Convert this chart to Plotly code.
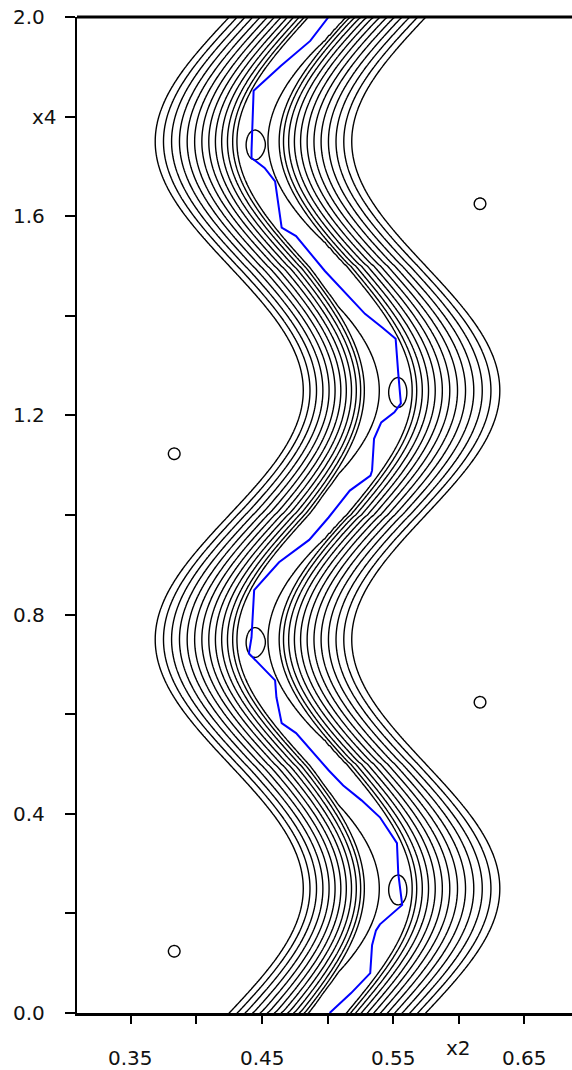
import numpy as np
import plotly.graph_objects as go

# ---- axis ticks -------------------------------------------------------------
x2_ticks = [0.35, 0.40, 0.45, 0.50, 0.55, 0.60, 0.65]
x2_labels = ["0.35", "", "0.45", "", "0.55", "x2", "0.65"]
x4_ticks = [0.0, 0.2, 0.4, 0.6, 0.8, 1.0, 1.2, 1.4, 1.6, 1.8, 2.0]
x4_labels = ["0.0", "", "0.4", "", "0.8", "", "1.2", "", "1.6", "x4", "2.0"]

# ---- response surface parameters ---------------------------------------------
band_mid = 0.5          # mean x2 of the valley
band_amp = 0.0565       # swing of the valley in x2
band_period = 1.0       # period in x4
band_half = 0.075       # half width of the contoured band

floor_mid = 0.0137                 # floor half width where the valley crosses the middle
floor_outer = [0.0118, 0.0072]     # at the bends [towards low x2, towards high x2]
floor_inner = [0.0180, 0.0270]
ramp_width = [0.0078, 0.0120]
ramp_amp = 0.061                   # gentle rise across the floor on the inner side
ramp_power = 0.35
wall_power = 0.8
plateau = 1.0

level_start = 0.03
level_end = 0.97
level_count = 13

# local humps on the valley floor
hump_x2 = [0.5538, 0.4447, 0.5538, 0.4447]
hump_x4 = [0.247, 0.744, 1.246, 1.743]
hump_height = 0.05

# local pits on the plateau
pit_x2 = [0.383, 0.6164, 0.383, 0.6164]
pit_x4 = [0.124, 0.624, 1.123, 1.625]
pit_depth = 0.05

# ---- path of the valley minimum (x4, x2) --------------------------------------
path_x4 = [0.000, 0.040, 0.080, 0.136, 0.166, 0.178, 0.217, 0.280, 0.341, 0.361,
           0.393, 0.427, 0.457, 0.487, 0.562, 0.582, 0.634, 0.668, 0.708, 0.722,
           0.754, 0.849, 0.905, 0.950, 0.995,
           1.049, 1.079, 1.089, 1.153, 1.186, 1.206, 1.224, 1.284, 1.354, 1.376,
           1.404, 1.490, 1.560, 1.577, 1.670, 1.697, 1.717, 1.731, 1.852, 1.902,
           1.952, 2.000]
path_x2 = [0.5016, 0.5180, 0.5326, 0.5340, 0.5370, 0.5400, 0.5570, 0.5540, 0.5530, 0.5480,
           0.5400, 0.5260, 0.5120, 0.5010, 0.4760, 0.4650, 0.4610, 0.4600, 0.4450, 0.4400,
           0.4420, 0.4440, 0.4630, 0.4860, 0.5008,
           0.5170, 0.5328, 0.5340, 0.5355, 0.5410, 0.5510, 0.5560, 0.5540, 0.5520, 0.5420,
           0.5286, 0.4980, 0.4760, 0.4650, 0.4600, 0.4520, 0.4420, 0.4420, 0.4436, 0.4645,
           0.4868, 0.5008]

# ---- evaluate the surface on a grid -------------------------------------------
gx2 = np.round(np.arange(0.300, 0.7001, 0.001), 4)
gx4 = np.round(np.arange(-0.008, 2.0081, 0.004), 4)
X2, X4 = np.meshgrid(gx2, gx4)

phase = 2 * np.pi * X4 / band_period
bend = -np.sin(phase)                 # > 0 where the valley swings to low x2
d = X2 - (band_mid + band_amp * np.sin(phase))
a = np.abs(d)
swing = np.abs(bend)
inner = (d * bend) > 0
low = bend > 0

f_out = floor_mid + (np.where(low, floor_outer[0], floor_outer[1]) - floor_mid) * swing
f_in = floor_mid + (np.where(low, floor_inner[0], floor_inner[1]) - floor_mid) * swing
r_w = np.where(low, ramp_width[0], ramp_width[1])
r_top = ramp_amp * swing ** ramp_power

floor = np.where(inner, f_in, f_out)
top = np.where(inner, level_end - r_top, level_end)
wall_w = (band_half - floor) / top ** (1 / wall_power)
wall = (np.clip(a - floor, 0, None) / wall_w) ** wall_power
ramp = np.where(inner, r_top * np.tanh(a / r_w) ** 6, 0.0)
z = wall + ramp

for hx, hy in zip(hump_x2, hump_x4):
    r2 = ((X2 - hx) / 0.0068) ** 2 + ((X4 - hy) / 0.030) ** 2
    z = z + hump_height * np.exp(-0.5 * r2 ** 4)

z = np.minimum(z, plateau)

for px, py in zip(pit_x2, pit_x4):
    r2 = ((X2 - px) / 0.0044) ** 2 + ((X4 - py) / 0.0114) ** 2
    z = z - pit_depth * np.exp(-0.5 * r2)

z = np.round(z, 5)

level_size = (level_end - level_start) / (level_count - 1)

fig = go.Figure()
fig.add_trace(go.Contour(
    x=gx2, y=gx4, z=z,
    contours=dict(coloring="none", start=level_start, end=level_end + 1e-6,
                  size=level_size, showlabels=False),
    line=dict(color="black", width=1.4, smoothing=0.6),
    showscale=False, hoverinfo="skip",
))
fig.add_trace(go.Scatter(
    x=path_x2, y=path_x4, mode="lines",
    line=dict(color="#0000ff", width=2),
    hoverinfo="skip", showlegend=False,
))

font = dict(family="DejaVu Sans", size=20, color="#111111")
annotations = []
for v, t in zip(x4_ticks, x4_labels):
    if not t:
        continue
    annotations.append(dict(
        x=0, xref="paper", y=v, yref="y", text=t, showarrow=False,
        xanchor="right", yanchor="middle", font=font,
        xshift=-18 if t == "x4" else -30,
    ))
for v, t in zip(x2_ticks, x2_labels):
    if not t:
        continue
    annotations.append(dict(
        x=v, xref="x", y=0, yref="paper", text=t, showarrow=False,
        xanchor="center", yanchor="middle", font=font,
        yshift=-35 if t == "x2" else -45,
    ))

fig.update_layout(
    width=572, height=1070,
    margin=dict(l=77, r=0, t=17, b=57, pad=0),
    paper_bgcolor="white", plot_bgcolor="white",
    showlegend=False,
    annotations=annotations,
    shapes=[dict(type="line", xref="paper", yref="paper", x0=0, x1=1, y0=1, y1=1,
                 line=dict(color="black", width=3))],
    xaxis=dict(range=[0.3088, 0.6866], tickvals=x2_ticks, showticklabels=False,
               ticks="outside", ticklen=8, tickwidth=2, tickcolor="black",
               showline=True, linewidth=2.5, linecolor="black",
               showgrid=False, zeroline=False),
    yaxis=dict(range=[0, 2], tickvals=x4_ticks, showticklabels=False,
               ticks="outside", ticklen=10, tickwidth=1.5, tickcolor="black",
               showline=True, linewidth=1.5, linecolor="black",
               showgrid=False, zeroline=False),
)

fig.write_html("out.html")
